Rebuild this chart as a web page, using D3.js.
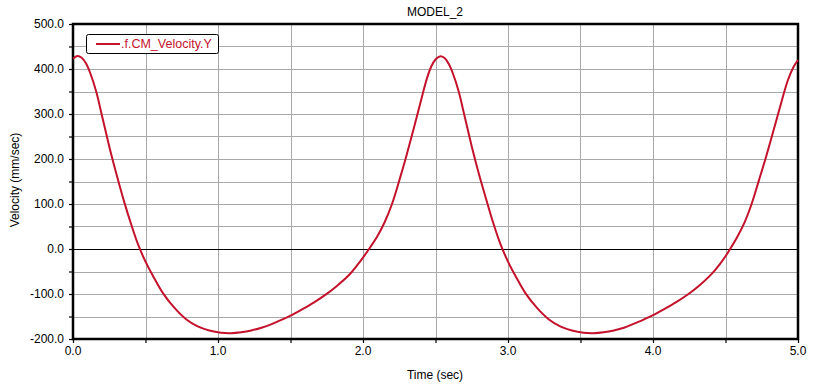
<!DOCTYPE html>
<html>
<head>
<meta charset="utf-8">
<script src="https://cdn.jsdelivr.net/npm/d3@7"></script>
<style>
body { margin: 0; background: #fff; }
text { font-family: "Liberation Sans", Arial, sans-serif; }
</style>
</head>
<body>
<script>
// values
var timeSec = [0.00, 0.03, 0.06, 0.09, 0.12, 0.16, 0.20, 0.25, 0.30, 0.35, 0.40, 0.45, 0.50, 0.55,
    0.62, 0.70, 0.78, 0.86, 0.94, 1.02, 1.09, 1.16, 1.23, 1.30, 1.37, 1.44, 1.50, 1.58, 1.66, 1.74,
    1.82, 1.90, 1.96, 2.00, 2.05, 2.10, 2.15, 2.20, 2.25, 2.30, 2.35, 2.40, 2.44, 2.47, 2.50, 2.53,
    2.56, 2.59, 2.62, 2.66, 2.70, 2.75, 2.80, 2.85, 2.90, 2.95, 3.00, 3.05, 3.12, 3.20, 3.28, 3.36,
    3.44, 3.52, 3.59, 3.66, 3.73, 3.80, 3.87, 3.94, 4.00, 4.08, 4.16, 4.24, 4.32, 4.40, 4.46, 4.50,
    4.53, 4.58, 4.63, 4.68, 4.73, 4.78, 4.83, 4.88, 4.93, 4.97, 5.00];
var velocity = [423, 429, 425, 412, 390, 350, 296, 228, 166, 108, 56, 9, -28, -59,
    -98, -131, -156, -172, -181, -186, -187, -185, -181, -175, -167, -157, -148, -134, -119, -102,
    -82, -59, -36, -19, 4, 29, 60, 100, 152, 208, 268, 330, 378, 405, 421, 428,
    425, 412, 390, 350, 296, 228, 166, 110, 56, 9, -28, -59, -98, -131, -156, -172,
    -181, -186, -187, -185, -181, -175, -166, -156, -147, -133, -118, -101, -81, -57, -34, -16,
    -1, 26, 58, 100, 152, 205, 262, 320, 375, 405, 420];
var xTicks = [0, 1, 2, 3, 4, 5];
var yTicks = [-200, -100, 0, 100, 200, 300, 400, 500];
var seriesName = ".f.CM_Velocity.Y";

var width = 824, height = 386;
var margin = {top: 24, right: 26, bottom: 47, left: 73};
var w = width - margin.left - margin.right;
var h = height - margin.top - margin.bottom;
var red = "#c4122c";

var svg = d3.select("body").append("svg")
    .attr("width", width)
    .attr("height", height);

var g = svg.append("g")
    .attr("transform", "translate(" + margin.left + "," + margin.top + ")");

var x = d3.scaleLinear().domain([0, 5]).range([0, w]);
var y = d3.scaleLinear().domain([-200, 500]).range([h, 0]);

// grid
g.append("g")
    .selectAll("line")
    .data(d3.range(0.5, 5, 0.5))
    .enter().append("line")
    .attr("x1", function(d) { return Math.round(x(d)) + 0.5; })
    .attr("x2", function(d) { return Math.round(x(d)) + 0.5; })
    .attr("y1", 0).attr("y2", h)
    .attr("stroke", "#a8a8a8");

g.append("g")
    .selectAll("line")
    .data(d3.range(-150, 500, 50))
    .enter().append("line")
    .attr("y1", function(d) { return Math.round(y(d)) + 0.5; })
    .attr("y2", function(d) { return Math.round(y(d)) + 0.5; })
    .attr("x1", 0).attr("x2", w)
    .attr("stroke", function(d) { return d === 0 ? "#000" : "#a8a8a8"; });

// axes with ticks every half step
var xAxis = g.append("g")
    .attr("transform", "translate(0," + h + ")")
    .call(d3.axisBottom(x).tickValues(d3.range(0, 5.01, 0.5)).tickSize(4).tickFormat(""));
var yAxis = g.append("g")
    .call(d3.axisLeft(y).tickValues(d3.range(-200, 501, 50)).tickSize(4).tickFormat(""));
[xAxis, yAxis].forEach(function(a) {
    a.select(".domain").remove();
    a.selectAll(".tick line").attr("stroke", "#000").attr("stroke-width", 1.2);
});

g.append("g").selectAll("text")
    .data(xTicks)
    .enter().append("text")
    .attr("x", function(d) { return x(d); })
    .attr("y", h + 16)
    .attr("text-anchor", "middle")
    .attr("font-size", 12)
    .text(function(d) { return d.toFixed(1); });

g.append("g").selectAll("text")
    .data(yTicks)
    .enter().append("text")
    .attr("x", -9)
    .attr("y", function(d) { return y(d) + 4; })
    .attr("text-anchor", "end")
    .attr("font-size", 12)
    .text(function(d) { return d.toFixed(1); });

// frame
g.append("rect")
    .attr("x", 0).attr("y", 0)
    .attr("width", w).attr("height", h)
    .attr("fill", "none")
    .attr("stroke", "#000")
    .attr("stroke-width", 2.5);

// the curve
var line = d3.line()
    .x(function(d, i) { return x(timeSec[i]); })
    .y(function(d) { return y(d); })
    .curve(d3.curveCatmullRom);

g.append("path")
    .datum(velocity)
    .attr("d", line)
    .attr("fill", "none")
    .attr("stroke", red)
    .attr("stroke-width", 2);

// legend
var lg = g.append("g").attr("transform", "translate(13,10)");
lg.append("rect")
    .attr("x", 0.5).attr("y", 0.5)
    .attr("width", 132).attr("height", 19)
    .attr("rx", 2)
    .attr("fill", "#fff")
    .attr("stroke", "#000");
lg.append("line")
    .attr("x1", 10).attr("x2", 34)
    .attr("y1", 10).attr("y2", 10)
    .attr("stroke", red)
    .attr("stroke-width", 2);
lg.append("text")
    .attr("x", 35).attr("y", 14)
    .attr("font-size", 12.5)
    .attr("fill", red)
    .text(seriesName);

// titles
svg.append("text")
    .attr("x", 435).attr("y", 16)
    .attr("text-anchor", "middle")
    .attr("font-size", 12)
    .text("MODEL_2");

svg.append("text")
    .attr("x", 435).attr("y", 379)
    .attr("text-anchor", "middle")
    .attr("font-size", 12)
    .text("Time (sec)");

svg.append("text")
    .attr("transform", "translate(19,180) rotate(-90)")
    .attr("text-anchor", "middle")
    .attr("font-size", 12)
    .text("Velocity (mm/sec)");
</script>
</body>
</html>
